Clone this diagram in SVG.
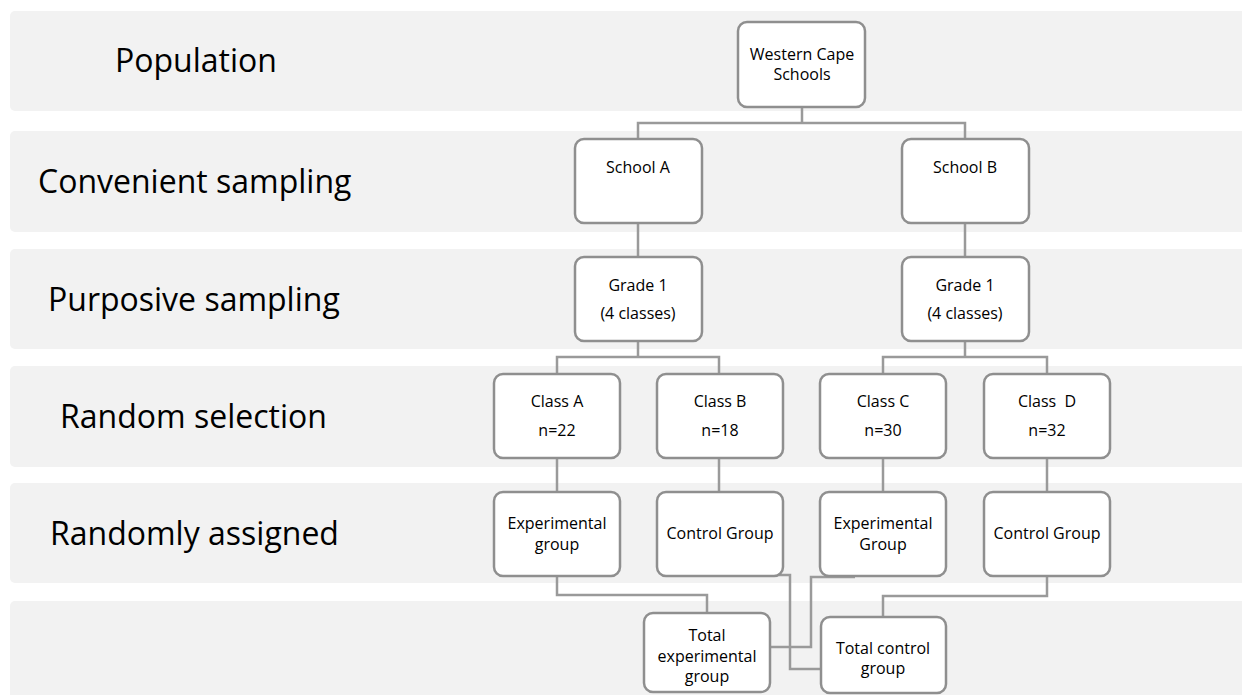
<svg xmlns="http://www.w3.org/2000/svg" width="1242" height="695" viewBox="0 0 1242 695">
<style>
.band{fill:#f2f2f2;}
.lbl{font-family:"Open Sans","Liberation Sans",sans-serif;font-size:32px;fill:#000;}
.box{fill:#fff;stroke:#8f8f8f;stroke-width:2.5;}
.t{font-family:"Open Sans","Liberation Sans",sans-serif;font-size:16px;fill:#000;text-anchor:middle;}
.con{fill:none;stroke:#9a9a9a;stroke-width:2.5;}
</style>
<rect width="1242" height="695" fill="#fff"/>
<g id="bands">
<rect class="band" x="10" y="11" width="1240" height="100" rx="5"/>
<rect class="band" x="10" y="131" width="1240" height="101" rx="5"/>
<rect class="band" x="10" y="249" width="1240" height="100" rx="5"/>
<rect class="band" x="10" y="366" width="1240" height="101" rx="5"/>
<rect class="band" x="10" y="483" width="1240" height="100" rx="5"/>
<rect class="band" x="10" y="601" width="1240" height="110" rx="5"/>
</g>
<g id="labels">
<text class="lbl" x="115" y="72">Population</text>
<text class="lbl" x="38" y="193">Convenient sampling</text>
<text class="lbl" x="48" y="311">Purposive sampling</text>
<text class="lbl" x="60" y="428">Random selection</text>
<text class="lbl" x="50" y="545">Randomly assigned</text>
</g>
<g id="connectors">
<path class="con" d="M802,107 V123 M638,139 V123 H965 V139"/>
<path class="con" d="M638,223 V257 M965,223 V257"/>
<path class="con" d="M638,341 V357 M557,374 V357 H719 V374"/>
<path class="con" d="M965,341 V357 M883,374 V357 H1047 V374"/>
<path class="con" d="M557,458 V492 M719,458 V492 M883,458 V492 M1047,458 V492"/>
<path class="con" d="M557,576 V595 H707 V613"/>
<path class="con" d="M758,575 H790 V669 H821"/>
<path class="con" d="M855,577 H811 V647 H768"/>
<path class="con" d="M1047,576 V596 H883 V617"/>
</g>
<g id="n-western">
<rect class="box" x="738" y="22" width="127" height="85" rx="9"/>
<text class="t" x="802" y="60">Western Cape</text>
<text class="t" x="802" y="80">Schools</text>
</g>
<g id="n-schoolA">
<rect class="box" x="575" y="139" width="127" height="84" rx="9"/>
<text class="t" x="638" y="173">School A</text>
</g>
<g id="n-schoolB">
<rect class="box" x="902" y="139" width="127" height="84" rx="9"/>
<text class="t" x="965" y="173">School B</text>
</g>
<g id="n-grade1A">
<rect class="box" x="575" y="257" width="127" height="84" rx="9"/>
<text class="t" x="638" y="291">Grade 1</text>
<text class="t" x="638" y="319">(4 classes)</text>
</g>
<g id="n-grade1B">
<rect class="box" x="902" y="257" width="127" height="84" rx="9"/>
<text class="t" x="965" y="291">Grade 1</text>
<text class="t" x="965" y="319">(4 classes)</text>
</g>
<g id="n-classA">
<rect class="box" x="494" y="374" width="126" height="84" rx="9"/>
<text class="t" x="557" y="407">Class A</text>
<text class="t" x="557" y="436">n=22</text>
</g>
<g id="n-classB">
<rect class="box" x="657" y="374" width="126" height="84" rx="9"/>
<text class="t" x="720" y="407">Class B</text>
<text class="t" x="720" y="436">n=18</text>
</g>
<g id="n-classC">
<rect class="box" x="820" y="374" width="126" height="84" rx="9"/>
<text class="t" x="883" y="407">Class C</text>
<text class="t" x="883" y="436">n=30</text>
</g>
<g id="n-classD">
<rect class="box" x="984" y="374" width="126" height="84" rx="9"/>
<text class="t" x="1047" y="407" xml:space="preserve">Class  D</text>
<text class="t" x="1047" y="436">n=32</text>
</g>
<g id="n-expA">
<rect class="box" x="494" y="492" width="126" height="84" rx="9"/>
<text class="t" x="557" y="529">Experimental</text>
<text class="t" x="557" y="550">group</text>
</g>
<g id="n-ctrlB">
<rect class="box" x="657" y="492" width="126" height="84" rx="9"/>
<text class="t" x="720" y="539">Control Group</text>
</g>
<g id="n-expC">
<rect class="box" x="820" y="492" width="126" height="84" rx="9"/>
<text class="t" x="883" y="529">Experimental</text>
<text class="t" x="883" y="550">Group</text>
</g>
<g id="n-ctrlD">
<rect class="box" x="984" y="492" width="126" height="84" rx="9"/>
<text class="t" x="1047" y="539">Control Group</text>
</g>
<g id="n-totalExp">
<rect class="box" x="644" y="613" width="126" height="79" rx="9"/>
<text class="t" x="707" y="641">Total</text>
<text class="t" x="707" y="662">experimental</text>
<text class="t" x="707" y="682">group</text>
</g>
<g id="n-totalCtrl">
<rect class="box" x="821" y="617" width="125" height="76" rx="9"/>
<text class="t" x="883" y="654">Total control</text>
<text class="t" x="883" y="674">group</text>
</g>
</svg>
